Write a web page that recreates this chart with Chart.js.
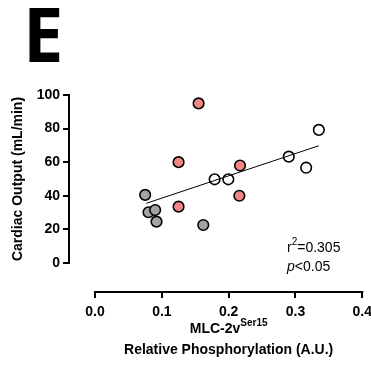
<!DOCTYPE html>
<html>
<head>
<meta charset="utf-8">
<script src="https://cdn.jsdelivr.net/npm/chart.js@4.4.0/dist/chart.umd.min.js"></script>
<style>
  html, body { margin: 0; padding: 0; background: #fff; overflow: hidden; }
  #wrap { position: relative; width: 378px; height: 367px; }
</style>
</head>
<body>
<div id="wrap"><canvas id="chart"></canvas></div>
<script>
// groups
const grayX = [0.075, 0.080, 0.090, 0.092, 0.162];
const grayY = [40.5, 30.2, 31.5, 24.6, 22.6];
const redX = [0.155, 0.125, 0.125, 0.217, 0.216];
const redY = [95, 60, 33.5, 58, 40];
const whiteX = [0.179, 0.1995, 0.290, 0.316, 0.335];
const whiteY = [49.8, 49.8, 63.3, 56.7, 79.2];
const fitX = [0.0767, 0.335];
const fitY = [35.5, 69.8];
const xTicks = [0, 0.1, 0.2, 0.3, 0.4];
const yTicks = [0, 20, 40, 60, 80, 100];

const toPts = (xs, ys) => xs.map((x, i) => ({ x: x, y: ys[i] }));
const FONT = 'Liberation Sans, Arial, sans-serif';

const extras = {
  id: 'extras',
  afterDraw(chart) {
    const ctx = chart.ctx;
    const xs = chart.scales.x, ys = chart.scales.y;
    const ca = chart.chartArea;
    ctx.save();
    ctx.strokeStyle = '#000';
    ctx.lineWidth = 2;
    // y axis line 0..100
    ctx.beginPath();
    ctx.moveTo(ca.left, ys.getPixelForValue(0) + 1);
    ctx.lineTo(ca.left, ys.getPixelForValue(100) - 1);
    ctx.stroke();
    // x axis line 0..0.4
    ctx.beginPath();
    ctx.moveTo(xs.getPixelForValue(0) - 1, ca.bottom);
    ctx.lineTo(xs.getPixelForValue(0.4) + 1, ca.bottom);
    ctx.stroke();

    ctx.fillStyle = '#000';
    // panel letter
    ctx.font = 'bold 76px "Open Sans", sans-serif';
    ctx.textBaseline = 'alphabetic';
    ctx.textAlign = 'left';
    ctx.save();
    ctx.translate(23, 62);
    ctx.scale(0.95, 1);
    ctx.fillText('E', 0, 0);
    ctx.restore();

    // y title
    ctx.save();
    ctx.translate(18, (ys.getPixelForValue(0) + ys.getPixelForValue(100)) / 2);
    ctx.rotate(-Math.PI / 2);
    ctx.textAlign = 'center';
    ctx.textBaseline = 'middle';
    ctx.font = 'bold 14px ' + FONT;
    ctx.fillText('Cardiac Output (mL/min)', 0, 0);
    ctx.restore();

    // x title, line 1 with superscript
    const cx = (xs.getPixelForValue(0) + xs.getPixelForValue(0.4)) / 2;
    ctx.textBaseline = 'alphabetic';
    ctx.textAlign = 'left';
    ctx.font = 'bold 14px ' + FONT;
    const main = 'MLC-2v';
    const wMain = ctx.measureText(main).width;
    ctx.font = 'bold 10px ' + FONT;
    const sup = 'Ser15';
    const wSup = ctx.measureText(sup).width;
    const x0 = cx - (wMain + wSup) / 2;
    ctx.font = 'bold 14px ' + FONT;
    ctx.fillText(main, x0, 333);
    ctx.font = 'bold 10px ' + FONT;
    ctx.fillText(sup, x0 + wMain, 326);
    ctx.font = 'bold 14px ' + FONT;
    ctx.textAlign = 'center';
    ctx.fillText('Relative Phosphorylation (A.U.)', cx, 354);

    // stats annotation
    ctx.textAlign = 'left';
    ctx.font = '14px ' + FONT;
    let tx = 287;
    ctx.fillText('r', tx, 252);
    tx += ctx.measureText('r').width;
    ctx.font = '10px ' + FONT;
    ctx.fillText('2', tx, 245);
    tx += ctx.measureText('2').width;
    ctx.font = '14px ' + FONT;
    ctx.fillText('=0.305', tx, 252);
    ctx.font = 'italic 14px ' + FONT;
    ctx.fillText('p', 287, 271);
    const wp = ctx.measureText('p').width;
    ctx.font = '14px ' + FONT;
    ctx.fillText('<0.05', 287 + wp, 271);
    ctx.restore();
  }
};

const pointStyle = (fill) => ({
  backgroundColor: fill,
  borderColor: '#000',
  borderWidth: 1.6,
  pointRadius: 5.3,
  pointHoverRadius: 5.3
});

new Chart(document.getElementById('chart'), {
  type: 'scatter',
  data: {
    datasets: [
      Object.assign({ label: 'fit', type: 'line', data: toPts(fitX, fitY), borderColor: '#000', borderWidth: 1, pointRadius: 0, fill: false, order: 0 }),
      Object.assign({ label: 'gray', data: toPts(grayX, grayY) }, pointStyle('#a3a3a3')),
      Object.assign({ label: 'red', data: toPts(redX, redY) }, pointStyle('#f28682')),
      Object.assign({ label: 'white', data: toPts(whiteX, whiteY) }, pointStyle('#ffffff'))
    ]
  },
  options: {
    responsive: true,
    maintainAspectRatio: false,
    animation: false,
    events: [],
    clip: false,
    layout: { padding: { top: 95, left: 0, right: 0, bottom: 41 } },
    plugins: { legend: { display: false }, tooltip: { enabled: false } },
    scales: {
      x: {
        type: 'linear',
        min: -0.039,
        max: 0.4,
        afterBuildTicks: (s) => { s.ticks = xTicks.map(v => ({ value: v })); },
        afterFit: (s) => { s.height = 34; },
        grid: { drawOnChartArea: false, drawTicks: true, tickLength: 6, color: '#000', lineWidth: 2 },
        border: { display: false },
        ticks: { color: '#000', font: { family: FONT, weight: 'bold', size: 14 }, padding: 6, maxRotation: 0, callback: (v) => v.toFixed(1) }
      },
      y: {
        type: 'linear',
        min: -17.3,
        max: 100,
        afterBuildTicks: (s) => { s.ticks = yTicks.map(v => ({ value: v })); },
        afterFit: (s) => { s.width = 69; },
        grid: { drawOnChartArea: false, drawTicks: true, tickLength: 6, color: '#000', lineWidth: 2 },
        border: { display: false },
        ticks: { color: '#000', font: { family: FONT, weight: 'bold', size: 14 }, padding: 3 }
      }
    }
  },
  plugins: [extras]
});
</script>
</body>
</html>
